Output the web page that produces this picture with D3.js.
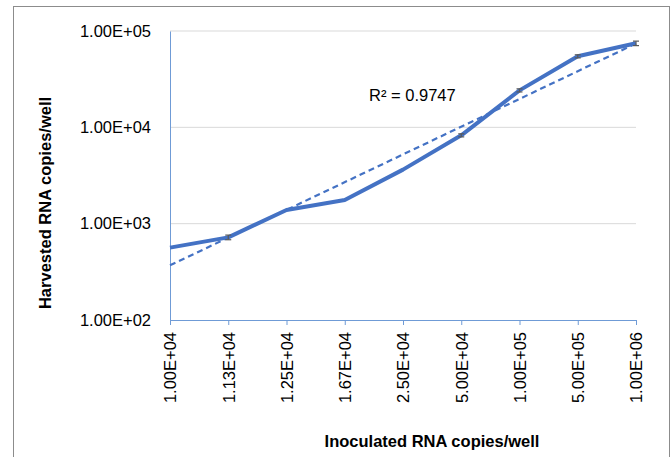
<!DOCTYPE html>
<html>
<head>
<meta charset="utf-8">
<script src="https://cdn.jsdelivr.net/npm/d3@7/dist/d3.min.js"></script>
<style>
  body { margin: 0; background: #fff; }
  text { font-family: "Liberation Sans", Arial, sans-serif; }
</style>
</head>
<body>
<svg id="chart" width="672" height="457"></svg>
<script>
// data
const categories = ["1.00E+04","1.13E+04","1.25E+04","1.67E+04","2.50E+04","5.00E+04","1.00E+05","5.00E+05","1.00E+06"];
const harvested  = [564, 721, 1388, 1763, 3640, 8260, 24200, 54600, 74500];
const errors     = [0, 40, 0, 0, 0, 300, 900, 2000, 4000];
const yTicks     = [100, 1000, 10000, 100000];
const r2Label    = "R\u00b2 = 0.9747";

const svg = d3.select("#chart");
const fmt = d => d.toExponential(2).toUpperCase().replace(/E([+-])(\d)$/, "E$10$2");

// outer frame (bottom edge falls outside the picture)
svg.append("rect")
  .attr("x", 13.5).attr("y", 6.5).attr("width", 656).attr("height", 470)
  .attr("fill", "#fff").attr("stroke", "#8c8c8c").attr("stroke-width", 1);

const x = d3.scalePoint().domain(categories).range([170, 636]);
const y = d3.scaleLog().domain([100, 100000]).range([320, 31]);

// gridlines
svg.append("g").selectAll("line")
  .data(yTicks.slice(1)).join("line")
  .attr("x1", 170).attr("x2", 636)
  .attr("y1", d => y(d)).attr("y2", d => y(d))
  .attr("stroke", "#d9d9d9").attr("stroke-width", 1);

// y axis
const yAxis = svg.append("g")
  .attr("transform", "translate(170,0)")
  .call(d3.axisLeft(y).tickValues(yTicks).tickFormat(fmt).tickSize(0).tickPadding(19));
yAxis.select(".domain").attr("stroke", "#6f9bd6");
yAxis.selectAll("text").attr("font-size", "16.5px").attr("fill", "#000");

// x axis
const xAxis = svg.append("g")
  .attr("transform", "translate(0,320)")
  .call(d3.axisBottom(x).tickSize(5).tickSizeOuter(0));
xAxis.select(".domain").attr("stroke", "#6f9bd6");
xAxis.selectAll(".tick line").attr("stroke", "#6f9bd6");
xAxis.selectAll("text")
  .attr("font-size", "16.5px").attr("fill", "#000")
  .attr("transform", "rotate(-90)")
  .attr("text-anchor", "end")
  .attr("x", -12).attr("y", 0).attr("dy", "0.35em");

// exponential trendline: regression of log10(y) on category index
const lx = harvested.map((d, i) => i);
const ly = harvested.map(d => Math.log10(d));
const mx = d3.mean(lx), my = d3.mean(ly);
const slope = d3.sum(lx, (v, i) => (v - mx) * (ly[i] - my)) / d3.sum(lx, v => (v - mx) ** 2);
const icpt = my - slope * mx;
const trend = [0, categories.length - 1].map(i => [x(categories[i]), y(Math.pow(10, icpt + slope * i))]);

svg.append("path")
  .attr("d", d3.line()(trend))
  .attr("fill", "none").attr("stroke", "#4472c4")
  .attr("stroke-width", 2.2).attr("stroke-dasharray", "6,4");

// data line
svg.append("path")
  .datum(harvested)
  .attr("d", d3.line().x((d, i) => x(categories[i])).y(d => y(d)))
  .attr("fill", "none").attr("stroke", "#4472c4")
  .attr("stroke-width", 4).attr("stroke-linejoin", "round");

// error bars
const eb = svg.append("g").attr("stroke", "#595959").attr("stroke-width", 1.2);
harvested.forEach((d, i) => {
  if (!errors[i]) return;
  const cx = x(categories[i]);
  const y0 = y(d + errors[i]), y1 = y(Math.max(d - errors[i], 1));
  eb.append("line").attr("x1", cx).attr("x2", cx).attr("y1", y0).attr("y2", y1);
  [y0, y1].forEach(v => eb.append("line").attr("x1", cx - 3).attr("x2", cx + 3).attr("y1", v).attr("y2", v));
});

// R² label
svg.append("text")
  .attr("x", 369).attr("y", 101)
  .attr("font-size", "16.5px").attr("fill", "#000")
  .text(r2Label);

// axis titles
svg.append("text")
  .attr("x", 432).attr("y", 447)
  .attr("text-anchor", "middle")
  .attr("font-size", "16.5px").attr("font-weight", "bold")
  .text("Inoculated RNA copies/well");

svg.append("text")
  .attr("transform", "translate(51,203) rotate(-90)")
  .attr("text-anchor", "middle")
  .attr("font-size", "16.5px").attr("font-weight", "bold")
  .text("Harvested RNA copies/well");
</script>
</body>
</html>
